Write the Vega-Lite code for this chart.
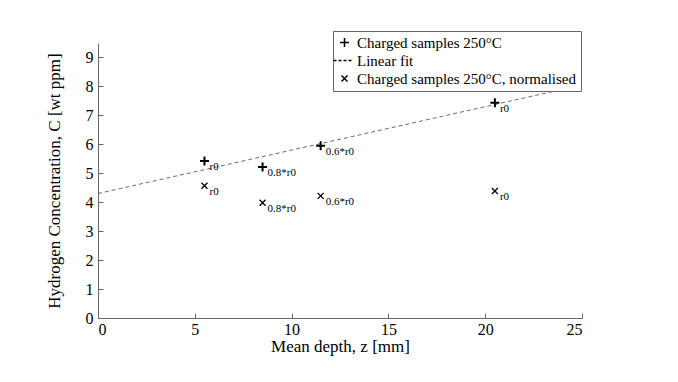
{
  "$schema": "https://vega.github.io/schema/vega-lite/v6.json",
  "width": 484,
  "height": 275,
  "autosize": "none",
  "padding": {"left": 98, "top": 43, "right": 96, "bottom": 64},
  "background": "white",
  "config": {
    "view": {"stroke": null},
    "font": "Liberation Serif",
    "axis": {
      "grid": false,
      "domainColor": "#666666",
      "tickColor": "#666666",
      "tickSize": -5,
      "labelColor": "black",
      "labelFont": "Liberation Serif",
      "labelFontSize": 16,
      "labelOverlap": false,
      "titleFont": "Liberation Serif",
      "titleFontSize": 17,
      "titleFontWeight": "normal",
      "titleColor": "black"
    }
  },
  "datasets": {
    "pts": [
      {"z": 5.5, "C": 5.42, "series": "Charged samples 250°C", "label": "r0"},
      {"z": 8.5, "C": 5.22, "series": "Charged samples 250°C", "label": "0.8*r0"},
      {"z": 11.5, "C": 5.95, "series": "Charged samples 250°C", "label": "0.6*r0"},
      {"z": 20.5, "C": 7.44, "series": "Charged samples 250°C", "label": "r0"},
      {"z": 5.5, "C": 4.57, "series": "Charged samples 250°C, normalised", "label": "r0"},
      {"z": 8.5, "C": 3.98, "series": "Charged samples 250°C, normalised", "label": "0.8*r0"},
      {"z": 11.5, "C": 4.22, "series": "Charged samples 250°C, normalised", "label": "0.6*r0"},
      {"z": 20.5, "C": 4.39, "series": "Charged samples 250°C, normalised", "label": "r0"}
    ],
    "fit": [
      {"z": 0, "C": 4.3},
      {"z": 25, "C": 8.05}
    ]
  },
  "encoding": {
    "x": {"field": "z", "type": "quantitative", "scale": {"domain": [0, 25], "nice": false},
          "axis": {"title": "Mean depth, z [mm]", "values": [0, 5, 10, 15, 20, 25], "titlePadding": 1, "labelPadding": 8}},
    "y": {"field": "C", "type": "quantitative", "scale": {"domain": [0, 9.5], "nice": false},
          "axis": {"title": "Hydrogen Concentration, C [wt ppm]", "values": [0, 1, 2, 3, 4, 5, 6, 7, 8, 9], "titlePadding": 22, "labelPadding": 10}}
  },
  "layer": [
    {
      "data": {"name": "fit"},
      "mark": {"type": "line", "strokeDash": [4, 3], "color": "#444444", "strokeWidth": 0.8}
    },
    {
      "data": {"name": "pts"},
      "mark": {"type": "point", "filled": false, "color": "black", "size": 100, "opacity": 1},
      "encoding": {
        "strokeWidth": {"condition": {"test": "datum.series === 'Charged samples 250°C'", "value": 2}, "value": 1.3},
        "shape": {
          "field": "series",
          "type": "nominal",
          "scale": {
            "domain": ["Charged samples 250°C", "Linear fit", "Charged samples 250°C, normalised"],
            "range": ["M-0.9,0L0.9,0M0,-0.9L0,0.9", "M-2.2,0L-1.6,0M-1.2,0L-0.6,0M-0.2,0L0.4,0M0.8,0L1.4,0", "M-0.6,-0.6L0.6,0.6M-0.6,0.6L0.6,-0.6"]
          },
          "legend": {
            "title": null,
            "orient": "none",
            "legendX": 235,
            "legendY": -12,
            "padding": 4,
            "strokeColor": "#666666",
            "fillColor": "white",
            "labelFont": "Liberation Serif",
            "labelFontSize": 15,
            "labelColor": "black",
            "labelLimit": 400,
            "symbolSize": 100,
            "symbolStrokeColor": "black",
            "symbolFillColor": "transparent",
            "rowPadding": 2,
            "labelOffset": 5,
            "labelExpr": "datum.label === 'Linear fit' ? '\u00a0\u00a0\u00a0Linear fit' : datum.label",
            "encode": {
              "symbols": {
                "update": {
                  "strokeWidth": {"signal": "datum.value === 'Linear fit' ? 0.8 : (datum.value === 'Charged samples 250°C' ? 2 : 1.3)"},
                  "stroke": {"signal": "datum.value === 'Linear fit' ? '#444444' : 'black'"}
                }
              }
            }
          }
        }
      }
    },
    {
      "data": {"name": "pts"},
      "mark": {"type": "text", "align": "left", "baseline": "middle", "dx": 5, "dy": 6, "fontSize": 11, "font": "Liberation Serif", "color": "black"},
      "encoding": {
        "text": {"field": "label"}
      }
    }
  ]
}
